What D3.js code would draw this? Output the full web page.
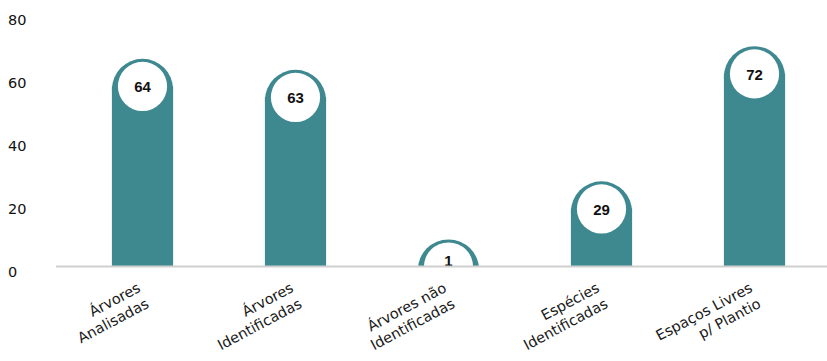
<!DOCTYPE html>
<html>
<head>
<meta charset="utf-8">
<script src="https://cdn.jsdelivr.net/npm/d3@7"></script>
<style>
  body { margin: 0; background: #fff; }
  svg { display: block; }
  .tick-label { font-family: "DejaVu Sans", sans-serif; font-size: 14.5px; fill: #111; }
  .cat-label { font-family: "DejaVu Sans", sans-serif; font-size: 14.5px; fill: #1a1a1a; }
  .val-label { font-family: "Liberation Sans", Arial, sans-serif; font-size: 15px; font-weight: bold; fill: #111; }
</style>
</head>
<body>
<div id="chart"></div>
<script>
// ---------- data ----------
var categories = ["Árvores\nAnalisadas", "Árvores\nIdentificadas", "Árvores não\nIdentificadas", "Espécies\nIdentificadas", "Espaços Livres\np/ Plantio"];
// numbers printed in the bubbles
var values = [64, 63, 1, 29, 72];
// level where each bar's flat part ends, read against the y axis
var barLevels = [57.5, 54, 0, 18.5, 61.5];
var yTicks = [0, 20, 40, 60, 80];

// ---------- sizing ----------
var svgWidth = 827;
var svgHeight = 361;
var teal = "#3e8890";

var svg = d3.select("#chart")
  .append("svg")
  .attr("width", svgWidth)
  .attr("height", svgHeight);

var xScale = d3.scaleBand()
  .domain(categories)
  .range([66, 831])
  .paddingInner(0.6)
  .paddingOuter(0.3);

var yScale = d3.scaleLinear()
  .domain([0, 80])
  .range([266.5, 15.3]);

var bw = xScale.bandwidth();
var y0 = yScale(0);

// clip the bars at the baseline (the small one is cut off)
svg.append("clipPath")
  .attr("id", "plotClip")
  .append("rect")
  .attr("x", 0)
  .attr("y", 0)
  .attr("width", svgWidth)
  .attr("height", y0);

// y tick labels (no axis line, just numbers)
svg.append("g").selectAll("text")
  .data(yTicks)
  .enter()
  .append("text")
  .classed("tick-label", true)
  .attr("x", 8)
  .attr("y", d => yScale(d) + 5)
  .attr("dominant-baseline", "central")
  .text(d => d);

var barGroup = svg.append("g").attr("clip-path", "url(#plotClip)");

var bars = barGroup.selectAll("g.bar")
  .data(categories)
  .enter()
  .append("g")
  .classed("bar", true);

// straight part
bars.append("rect")
  .attr("x", d => xScale(d))
  .attr("y", (d, i) => yScale(barLevels[i]))
  .attr("width", bw)
  .attr("height", (d, i) => y0 - yScale(barLevels[i]))
  .attr("fill", teal);

// rounded cap
bars.append("circle")
  .attr("cx", d => xScale(d) + bw / 2)
  .attr("cy", (d, i) => yScale(barLevels[i]) + 3.5)
  .attr("r", bw / 2)
  .attr("fill", teal);

// white bubble
bars.append("circle")
  .attr("cx", d => xScale(d) + bw / 2)
  .attr("cy", (d, i) => yScale(barLevels[i]) + 0.5)
  .attr("r", bw / 2 - 6)
  .attr("fill", "#fff");

// number inside bubble, pulled up near the baseline (still clipped there)
bars.append("text")
  .classed("val-label", true)
  .attr("x", d => xScale(d) + bw / 2)
  .attr("y", (d, i) => Math.min(yScale(barLevels[i]) + 1, y0 - 6))
  .attr("text-anchor", "middle")
  .attr("dominant-baseline", "central")
  .text((d, i) => values[i]);

// baseline
svg.append("line")
  .attr("x1", 56)
  .attr("x2", svgWidth)
  .attr("y1", y0)
  .attr("y2", y0)
  .attr("stroke", "#cfcfcf")
  .attr("stroke-width", 2);

// rotated two-line category labels, right aligned under each bar
var catLabels = svg.append("g").selectAll("text")
  .data(categories)
  .enter()
  .append("text")
  .classed("cat-label", true)
  .attr("text-anchor", "end")
  .attr("transform", d => `translate(${xScale(d) + bw / 2 - 1}, 291) rotate(-28)`);

catLabels.each(function(d) {
  var lines = d.split("\n");
  var t = d3.select(this);
  lines.forEach(function(line, k) {
    t.append("tspan")
      .attr("x", 0)
      .attr("y", k * 18)
      .text(line);
  });
});
</script>
</body>
</html>
